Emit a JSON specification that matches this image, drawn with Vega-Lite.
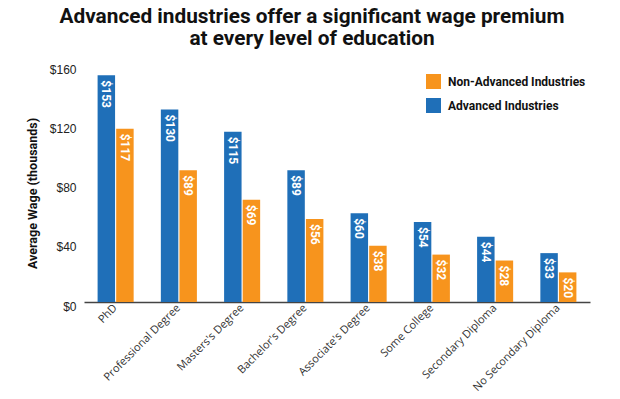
{
  "$schema": "https://vega.github.io/schema/vega-lite/v6.json",
  "width": 506,
  "height": 237,
  "autosize": {"type": "none"},
  "padding": {"left": 84, "top": 65, "right": 30, "bottom": 97},
  "background": "white",
  "title": {
    "text": ["Advanced industries offer a significant wage premium", "at every level of education"],
    "font": "Roboto",
    "fontSize": 20.8,
    "fontWeight": "bold",
    "color": "#111",
    "anchor": "middle",
    "frame": "group",
    "dx": -25,
    "offset": 13,
    "lineHeight": 22
  },
  "data": {
    "values": [
      {"level": "PhD", "series": "Advanced Industries", "wage": 153},
      {"level": "PhD", "series": "Non-Advanced Industries", "wage": 117},
      {"level": "Professional Degree", "series": "Advanced Industries", "wage": 130},
      {"level": "Professional Degree", "series": "Non-Advanced Industries", "wage": 89},
      {"level": "Masters's Degree", "series": "Advanced Industries", "wage": 115},
      {"level": "Masters's Degree", "series": "Non-Advanced Industries", "wage": 69},
      {"level": "Bachelor's Degree", "series": "Advanced Industries", "wage": 89},
      {"level": "Bachelor's Degree", "series": "Non-Advanced Industries", "wage": 56},
      {"level": "Associate's Degree", "series": "Advanced Industries", "wage": 60},
      {"level": "Associate's Degree", "series": "Non-Advanced Industries", "wage": 38},
      {"level": "Some College", "series": "Advanced Industries", "wage": 54},
      {"level": "Some College", "series": "Non-Advanced Industries", "wage": 32},
      {"level": "Secondary Diploma", "series": "Advanced Industries", "wage": 44},
      {"level": "Secondary Diploma", "series": "Non-Advanced Industries", "wage": 28},
      {"level": "No Secondary Diploma", "series": "Advanced Industries", "wage": 33},
      {"level": "No Secondary Diploma", "series": "Non-Advanced Industries", "wage": 20}
    ]
  },
  "encoding": {
    "x": {
      "field": "level",
      "type": "nominal",
      "sort": null,
      "scale": {"paddingInner": 0.43, "paddingOuter": 0.215},
      "axis": {
        "title": null,
        "labelAngle": -45,
        "labelAlign": "right",
        "labelBaseline": "middle",
        "labelFont": "Open Sans",
        "labelFontSize": 11,
        "labelColor": "#333",
        "labelPadding": 4,
        "ticks": false,
        "domainColor": "#444",
        "domainWidth": 1.5
      }
    },
    "xOffset": {
      "field": "series",
      "type": "nominal",
      "scale": {"domain": ["Advanced Industries", "Non-Advanced Industries"], "paddingInner": 0.06}
    },
    "y": {
      "field": "wage",
      "type": "quantitative",
      "scale": {"domain": [0, 160], "nice": false},
      "axis": {
        "title": "Average Wage (thousands)",
        "titleFont": "Roboto",
        "titleFontSize": 12.5,
        "titleFontWeight": "bold",
        "titleColor": "#111",
        "titlePadding": 10,
        "titleY": 128,
        "values": [0, 40, 80, 120, 160],
        "format": "$d",
        "labelFont": "Liberation Sans",
        "labelFontSize": 12,
        "labelColor": "#222",
        "labelPadding": 8,
        "labelOffset": 4,
        "ticks": false,
        "domain": false,
        "grid": false
      }
    }
  },
  "layer": [
    {
      "mark": {"type": "bar"},
      "encoding": {
        "color": {
          "field": "series",
          "type": "nominal",
          "scale": {"domain": ["Non-Advanced Industries", "Advanced Industries"], "range": ["#f7941d", "#1f6fb8"]},
          "legend": {
            "title": null,
            "orient": "none",
            "legendX": 342,
            "legendY": 9,
            "symbolType": "square",
            "symbolSize": 225,
            "symbolStrokeWidth": 0,
            "symbolOpacity": 1,
            "labelFont": "Roboto",
            "labelFontWeight": "bold",
            "labelFontSize": 12,
            "labelColor": "#111",
            "rowPadding": 9,
            "labelOffset": 7
          }
        }
      }
    },
    {
      "mark": {"type": "text", "angle": 90, "align": "left", "baseline": "middle", "dx": 5, "color": "white", "font": "Roboto", "fontWeight": "bold", "fontSize": 12},
      "encoding": {
        "text": {"field": "wage", "type": "quantitative", "format": "$d"}
      }
    }
  ],
  "config": {"view": {"stroke": null}}
}
